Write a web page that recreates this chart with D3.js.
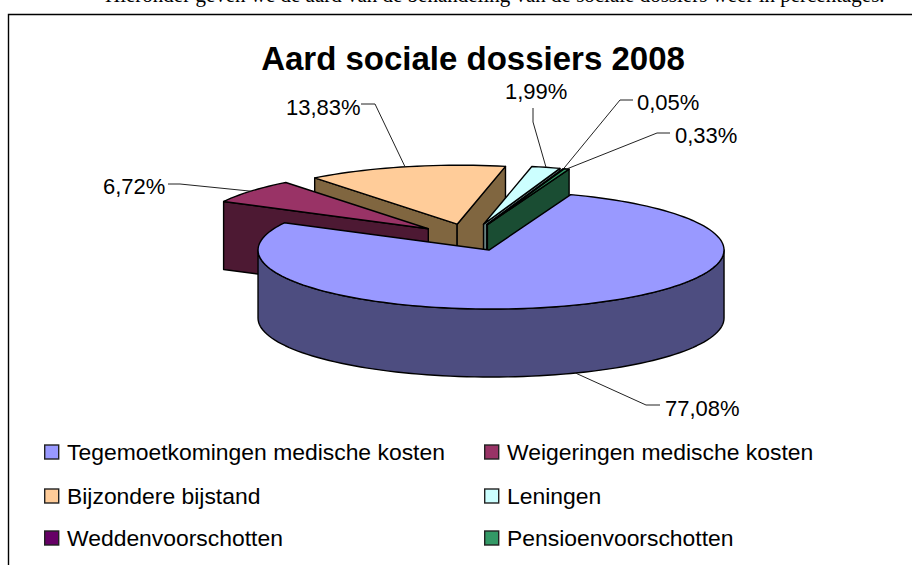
<!DOCTYPE html>
<html lang="nl">
<head>
<meta charset="utf-8">
<title>Aard sociale dossiers 2008</title>
<script src="https://cdn.jsdelivr.net/npm/d3@7"></script>
<style>
  html, body { margin: 0; padding: 0; background: #fff; overflow: hidden; }
  svg { display: block; }
  text { font-family: "Liberation Sans", Arial, sans-serif; fill: #000; }
</style>
</head>
<body>
<svg id="chart" width="912" height="565"></svg>
<script>
// chart data
const categories = ["Tegemoetkomingen medische kosten", "Weigeringen medische kosten", "Bijzondere bijstand", "Leningen", "Weddenvoorschotten", "Pensioenvoorschotten"];
const values = [77.08, 6.72, 13.83, 1.99, 0.05, 0.33];
const valueLabels = ["77,08%", "6,72%", "13,83%", "1,99%", "0,05%", "0,33%"];
const topColors = ["#9999ff", "#993366", "#ffcc99", "#ccffff", "#660066", "#339966"];
const sideColors = ["#4d4d80", "#4d1933", "#806640", "#668080", "#330033", "#1a4d33"];
const title = "Aard sociale dossiers 2008";
const pageLine = "Hieronder geven we de aard van de behandeling van de sociale dossiers weer in percentages.";

// layout of the fake 3d pie
const center = [469.6, 237.4], rx = 233, ry = 59, depth = 68, explode = 0.23, rimShift = 2;
// where the label sits and where its leader line bends
const labelAt = [[665, 416], [103, 194], [286, 115], [505, 99], [637, 110], [675, 143]];
const elbows = [[[660, 405], [646, 405]], [[168, 184], [180, 184]], [[361, 104], [375, 104]], [[533, 108], [533, 122]], [[633, 100], [620, 100]], [[670, 133], [657, 133]]];
const legendX = [44, 484], legendY = [452, 496, 538];

const svg = d3.select("#chart");
const unitX = d3.scaleLinear().domain([-1, 1]).range([-rx, rx]);
const unitY = d3.scaleLinear().domain([-1, 1]).range([ry, -ry]);
const deg = Math.PI / 180;

// start angle, clockwise from the back of the pie
const arcs = d3.pie().sort(null).startAngle(20 * deg).endAngle(380 * deg)(values);

function apex(d) {
    const mid = (d.startAngle + d.endAngle) / 2;
    return [center[0] + explode * unitX(Math.sin(mid)), center[1] + explode * unitY(Math.cos(mid))];
}
function rim(d, a, drop) {
    const p = apex(d);
    return [p[0] + rimShift + unitX(Math.sin(a)), p[1] + unitY(Math.cos(a)) + (drop || 0)];
}
function rimPoints(d, a0, a1, drop) {
    const n = Math.max(2, Math.ceil((a1 - a0) / deg / 2));
    return d3.range(n + 1).map(i => rim(d, a0 + (a1 - a0) * i / n, drop));
}
const line = d3.line();
const closed = pts => line(pts) + "Z";

const slices = svg.append("g").attr("stroke", "#000").attr("stroke-width", 1.4).attr("stroke-linejoin", "round");

// back slices first; weigeringen lies over the wall of bijzondere bijstand, main slice in front of all
[2, 3, 4, 5, 1, 0].forEach(i => {
    const d = arcs[i], p = apex(d), a0 = d.startAngle, a1 = d.endAngle;
    const g = slices.append("g").attr("fill", sideColors[i]);
    // only the walls that face the viewer
    if (Math.sin(a0) < 0) {
        g.append("path").attr("d", closed([p, rim(d, a0), rim(d, a0, depth), [p[0], p[1] + depth]]));
    }
    if (Math.sin(a1) > 0) {
        g.append("path").attr("d", closed([p, rim(d, a1), rim(d, a1, depth), [p[0], p[1] + depth]]));
    }
    const lo = Math.max(a0, 90 * deg), hi = Math.min(a1, 270 * deg);
    if (lo < hi) {
        g.append("path").attr("d", closed(rimPoints(d, lo, hi, 0).concat(rimPoints(d, lo, hi, depth).reverse())));
    }
    g.append("path").attr("fill", topColors[i]).attr("d", closed([p].concat(rimPoints(d, a0, a1, 0))));
});

// leader lines
const leaders = svg.append("g").attr("fill", "none").attr("stroke", "#222").attr("stroke-width", 1);
arcs.forEach((d, i) => {
    const mid = (d.startAngle + d.endAngle) / 2;
    const end = rim(d, mid, Math.cos(mid) < 0 ? depth : 0);
    leaders.append("path").attr("d", line(elbows[i].concat([end])));
});

// value labels
svg.append("g").selectAll("text").data(valueLabels).join("text")
    .attr("x", (d, i) => labelAt[i][0])
    .attr("y", (d, i) => labelAt[i][1])
    .attr("font-size", 22)
    .text(d => d);

// title
svg.append("text").attr("x", 473).attr("y", 70).attr("text-anchor", "middle")
    .attr("font-size", 33).attr("font-weight", "bold").text(title);

// legend, two columns
const legend = svg.append("g");
categories.forEach((c, i) => {
    const x = legendX[i % 2], y = legendY[Math.floor(i / 2)];
    legend.append("rect").attr("x", x + 0.7).attr("y", y - 7).attr("width", 14).attr("height", 14)
        .attr("fill", topColors[i]).attr("stroke", "#222").attr("stroke-width", 1.4);
    legend.append("text").attr("x", x + 23).attr("y", y + 8).attr("font-size", 22.9).text(c);
});

// frame of the chart, open on the right where the page cuts it off
svg.append("path").attr("fill", "none").attr("stroke", "#000").attr("stroke-width", 1.4)
    .attr("d", line([[8.5, 565], [8.5, 14.5], [912, 14.5]]));

// line of body text above the chart, cut off by the top of the page
svg.append("text").attr("x", 105).attr("y", 1.5).attr("font-size", 21)
    .style("font-family", '"Liberation Serif", serif').text(pageLine);
</script>
</body>
</html>
